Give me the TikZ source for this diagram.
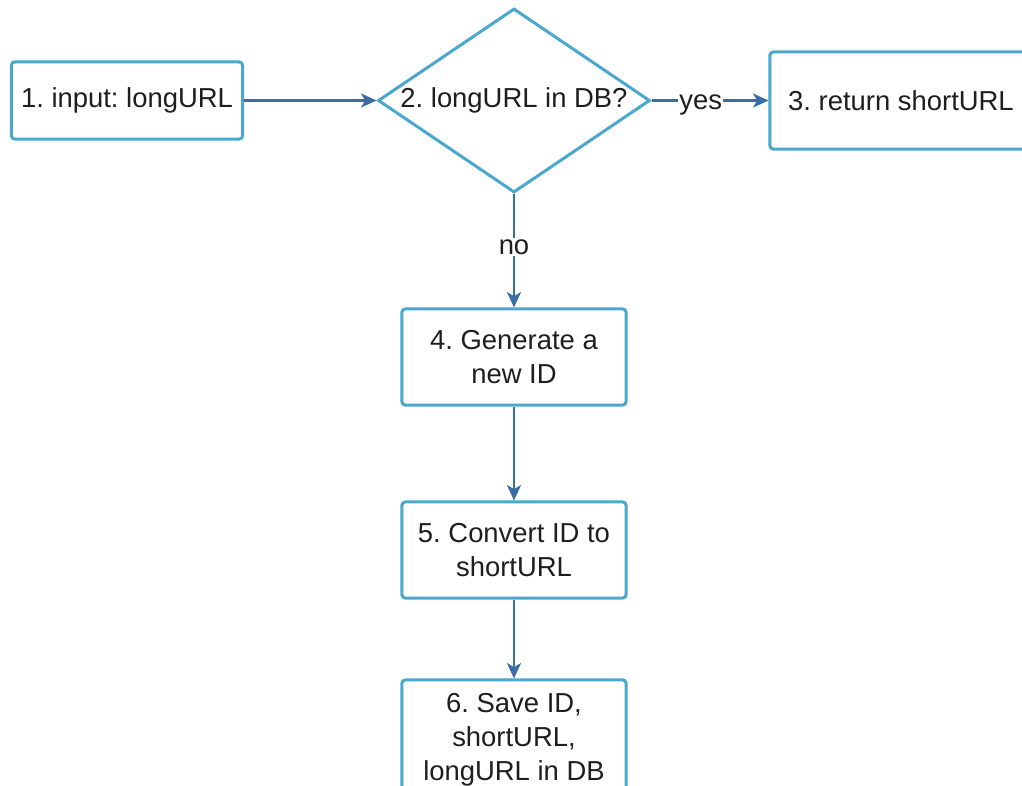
\documentclass[tikz,border=0pt]{standalone}
\usepackage{fontspec}
\setmainfont{Liberation Sans}
\usepackage{xcolor}
\usetikzlibrary{shapes.geometric,arrows.meta,positioning}
\frenchspacing

\definecolor{boxline}{HTML}{4AA8CF}
\definecolor{arrowline}{HTML}{3A6DA3}
\definecolor{txt}{HTML}{1E1E1E}

\begin{document}
\begin{tikzpicture}[
    x=0.025cm, y=-0.025cm,
    every node/.style={font=\fontsize{19.5}{24}\selectfont, text=txt},
    block/.style={rectangle, draw=boxline, line width=0.075cm, rounded corners=0.08cm, fill=white, align=center, inner sep=0pt},
    decision/.style={diamond, draw=boxline, line width=0.075cm, fill=white, inner sep=0pt, aspect=1.48, minimum width=6.8cm, minimum height=4.6cm},
    arrow/.style={->, >={Stealth[length=11pt, width=10pt, inset=3pt]}, draw=arrowline, line width=0.055cm},
    lbl/.style={fill=white, inner sep=1pt},
]
    \useasboundingbox (0,0) rectangle (1022,785);

    \node[block, minimum width=5.775cm, minimum height=1.925cm] (input) at (127,100.5) {1. input: longURL};
    \node[decision] (indb) at (514,100.5) {2. longURL in DB?};
    \node[block, minimum width=6.55cm, minimum height=2.425cm] (ret) at (901,100.5) {3. return shortURL};
    \node[block, minimum width=5.6cm, minimum height=2.4cm] (gen) at (514,357) {4. Generate a\\new ID};
    \node[block, minimum width=5.6cm, minimum height=2.4cm] (conv) at (514,550) {5. Convert ID to\\shortURL};
    \node[block, minimum width=5.6cm, minimum height=3cm] (save) at (514,740) {6. Save ID,\\shortURL,\\longURL in DB};

    \draw[arrow] (input) -- (indb);
    \draw[arrow] (indb) -- (ret) node[lbl, pos=0.42, yshift=-0.1cm] {yes};
    \draw[arrow] (indb) -- (gen) node[lbl, pos=0.47] {no};
    \draw[arrow] (gen) -- (conv);
    \draw[arrow] (conv) -- (save);
\end{tikzpicture}
\end{document}
